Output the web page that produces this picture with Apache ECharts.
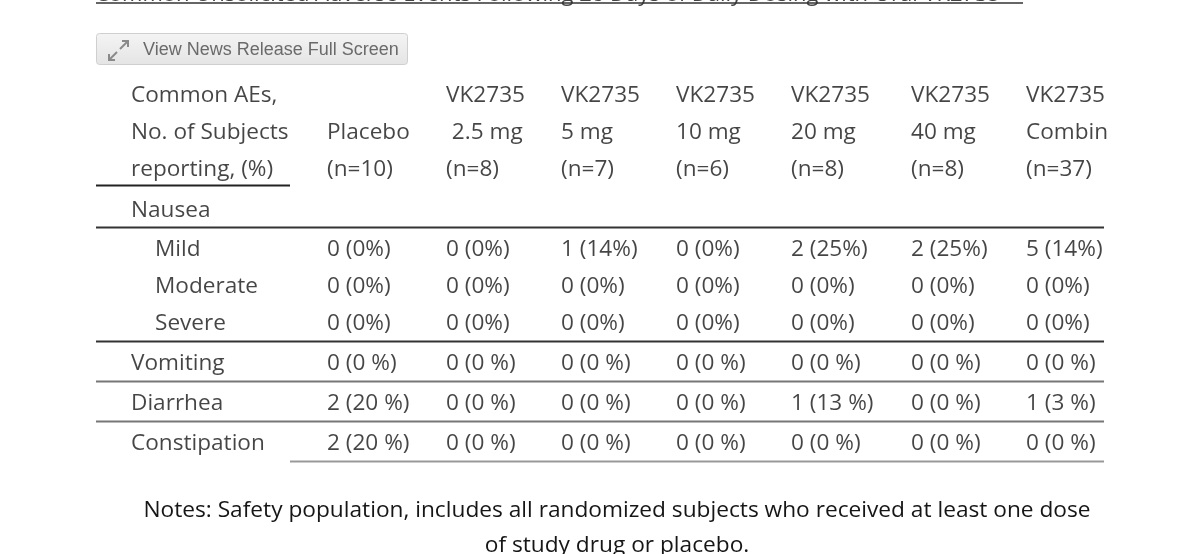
<!DOCTYPE html>
<html>
<head>
<meta charset="utf-8">
<script src="https://cdn.jsdelivr.net/npm/echarts@6/dist/echarts.min.js"></script>
<style>
html,body{margin:0;padding:0;background:#fff;}
#chart{width:1200px;height:554px;}
</style>
</head>
<body>
<div id="chart"></div>
<script>
// ---- Data ----
const headerLabel = ['Common AEs,', 'No. of Subjects', 'reporting, (%)'];
const headerLine1 = ['', 'VK2735', 'VK2735', 'VK2735', 'VK2735', 'VK2735', 'VK2735'];
const headerLine2 = ['Placebo', ' 2.5 mg', '5 mg', '10 mg', '20 mg', '40 mg', 'Combined'];
const headerLine3 = ['(n=10)', '(n=8)', '(n=7)', '(n=6)', '(n=8)', '(n=8)', '(n=37)'];
const rowLabels = ['Nausea', 'Mild', 'Moderate', 'Severe', 'Vomiting', 'Diarrhea', 'Constipation'];
const subRow = [false, true, true, true, false, false, false];
const placebo  = ['', '0 (0%)', '0 (0%)', '0 (0%)', '0 (0 %)', '2 (20 %)', '2 (20 %)'];
const vk2_5mg  = ['', '0 (0%)', '0 (0%)', '0 (0%)', '0 (0 %)', '0 (0 %)', '0 (0 %)'];
const vk5mg    = ['', '1 (14%)', '0 (0%)', '0 (0%)', '0 (0 %)', '0 (0 %)', '0 (0 %)'];
const vk10mg   = ['', '0 (0%)', '0 (0%)', '0 (0%)', '0 (0 %)', '0 (0 %)', '0 (0 %)'];
const vk20mg   = ['', '2 (25%)', '0 (0%)', '0 (0%)', '0 (0 %)', '1 (13 %)', '0 (0 %)'];
const vk40mg   = ['', '2 (25%)', '0 (0%)', '0 (0%)', '0 (0 %)', '0 (0 %)', '0 (0 %)'];
const combined = ['', '5 (14%)', '0 (0%)', '0 (0%)', '0 (0 %)', '1 (3 %)', '0 (0 %)'];
const valueColumns = [placebo, vk2_5mg, vk5mg, vk10mg, vk20mg, vk40mg, combined];
const titleText = 'Common Unsolicited Adverse Events Following 28 Days of Daily Dosing with Oral VK2735';
const buttonText = 'View News Release Full Screen';
const notesLines = ['Notes: Safety population, includes all randomized subjects who received at least one dose', 'of study drug or placebo.'];

// ---- Layout (not data) ----
const layout = {
  labelX: 131, subLabelX: 155,
  colX: [327, 446, 561, 676, 791, 911, 1026],
  headerY: [96, 133, 170],
  rowY: [211, 250, 287, 324, 364, 404, 444],
  clipRight: 1114
};

const textColor = '#161616';

// Build cell points
const cells = [];
function addCell(x, y, t) {
  const item = { value: [x, y, t] };
  if (x + 90 > layout.clipRight) {
    item.label = { width: layout.clipRight - x, overflow: 'truncate', ellipsis: '' };
  }
  cells.push(item);
}
headerLabel.forEach((t, i) => addCell(layout.labelX, layout.headerY[i], t));
[headerLine1, headerLine2, headerLine3].forEach((arr, r) => {
  arr.forEach((t, c) => { if (t) addCell(layout.colX[c], layout.headerY[r], t); });
});
rowLabels.forEach((t, i) => addCell(subRow[i] ? layout.subLabelX : layout.labelX, layout.rowY[i], t));
valueColumns.forEach((col, c) => {
  col.forEach((t, r) => { if (t) addCell(layout.colX[c], layout.rowY[r], t); });
});

const chart = echarts.init(document.getElementById('chart'));

function hline(x1, x2, y, color, w) {
  return { type: 'line', shape: { x1: x1, y1: y, x2: x2, y2: y }, style: { stroke: color, lineWidth: w }, silent: true };
}

const graphics = [
  // cut-off title at top
  { type: 'text', left: 95, top: -16.5, style: { text: titleText, font: "22px 'Open Sans', sans-serif", fill: '#444' } },
  hline(96, 1023, 3, '#333', 1.5),
  // button
  { type: 'rect', shape: { x: 96.5, y: 33.5, width: 311, height: 31, r: 3 },
    style: { fill: new echarts.graphic.LinearGradient(0, 0, 0, 1, [{ offset: 0, color: '#f4f4f4' }, { offset: 1, color: '#e4e4e4' }]), stroke: '#cfcfcf', lineWidth: 1 } },
  { type: 'polyline', shape: { points: [[120, 49], [128, 41]] }, style: { stroke: '#8a8a8a', lineWidth: 2 } },
  { type: 'polyline', shape: { points: [[122, 41], [128, 41], [128, 47]] }, style: { stroke: '#8a8a8a', lineWidth: 2, fill: null } },
  { type: 'polyline', shape: { points: [[117, 52], [109, 60]] }, style: { stroke: '#8a8a8a', lineWidth: 2 } },
  { type: 'polyline', shape: { points: [[109, 54], [109, 60], [115, 60]] }, style: { stroke: '#8a8a8a', lineWidth: 2, fill: null } },
  { type: 'text', x: 143, y: 50, style: { text: buttonText, font: "18px 'Liberation Sans', Arial, sans-serif", fill: '#6a6a6a', textVerticalAlign: 'middle' } },
  // table rules
  hline(96, 290, 185.5, '#222', 2),
  hline(96, 1104, 227.5, '#333', 2),
  hline(96, 1104, 341.5, '#333', 2),
  hline(96, 1104, 381.5, '#777', 2),
  hline(96, 1104, 421.5, '#777', 2),
  hline(290, 1104, 461.5, '#999', 2),
  // notes
  { type: 'text', x: 617, y: 511, style: { text: notesLines[0], font: "22.7px 'Open Sans', sans-serif", fill: textColor, textAlign: 'center', textVerticalAlign: 'middle' } },
  { type: 'text', x: 617, y: 546, style: { text: notesLines[1], font: "22.7px 'Open Sans', sans-serif", fill: textColor, textAlign: 'center', textVerticalAlign: 'middle' } }
];

chart.setOption({
  animation: false,
  grid: { left: 0, right: 0, top: 0, bottom: 0 },
  xAxis: { type: 'value', min: 0, max: 1200, show: false },
  yAxis: { type: 'value', min: 0, max: 554, inverse: true, show: false },
  series: [{
    type: 'scatter',
    data: cells,
    symbolSize: 0,
    silent: true,
    label: {
      show: true,
      position: 'right',
      distance: 0,
      formatter: p => p.value[2],
      fontFamily: 'Open Sans',
      fontSize: 22.6,
      color: textColor
    },
    labelLayout: { hideOverlap: false }
  }],
  graphic: graphics
});
</script>
</body>
</html>
